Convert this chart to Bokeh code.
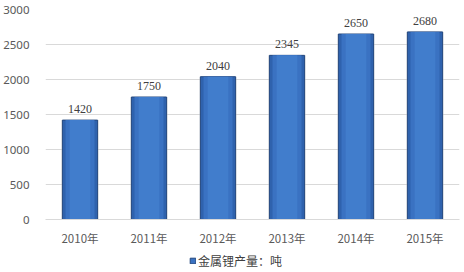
from bokeh.plotting import figure
from bokeh.models import ColumnDataSource, Range1d, Legend, LegendItem, LabelSet, FixedTicker
from bokeh.layouts import column
from bokeh.embed import file_html
from bokeh.resources import INLINE

years = ["2010年", "2011年", "2012年", "2013年", "2014年", "2015年"]
output = [1420, 1750, 2040, 2345, 2650, 2680]
series_name = "金属锂产量：吨"
y_ticks = [0, 500, 1000, 1500, 2000, 2500, 3000]

src = ColumnDataSource(dict(x=years, top=output, lbl=[str(v) for v in output]))

p = figure(x_range=years, y_range=Range1d(0, 3000), width=464, height=252,
           output_backend="svg", toolbar_location=None,
           min_border_left=39, min_border_right=5, min_border_top=9, min_border_bottom=33)
p.outline_line_color = None
p.background_fill_color = "white"

# shadow
p.vbar(x="x", top="top", width=0.54, source=src, fill_color="#cccccc", line_color=None, alpha=0.5)
p.vbar(x="x", top="top", width=0.51, source=src, fill_color="#2f62ad", line_color="#24487f", line_width=1)
p.vbar(x="x", top="top", width=0.42, source=src, fill_color="#3a72c2", line_color=None)
p.vbar(x="x", top="top", width=0.3, source=src, fill_color="#417dcc", line_color=None)

labels = LabelSet(x="x", y="top", text="lbl", source=src, y_offset=7, text_align="center",
                  text_font_size="12px", text_color="#404040", text_font="Noto Sans")
p.add_layout(labels)

p.yaxis.ticker = FixedTicker(ticks=y_ticks)
p.yaxis.axis_line_color = None
p.yaxis.major_tick_line_color = None
p.yaxis.minor_tick_line_color = None
p.yaxis.major_label_text_font_size = "11.5px"
p.yaxis.major_label_text_color = "#595959"
p.yaxis.major_label_text_font = "Noto Sans"
p.yaxis.major_label_standoff = 10

p.xaxis.axis_line_color = "#d9d9d9"
p.xaxis.major_tick_line_color = None
p.xaxis.minor_tick_line_color = None
p.xaxis.major_label_text_font_size = "11.5px"
p.xaxis.major_label_text_color = "#595959"
p.xaxis.major_label_text_font = "Noto Sans CJK SC"
p.xaxis.major_label_standoff = 4

p.xgrid.grid_line_color = None
p.ygrid.grid_line_color = "#d9d9d9"

# legend strip
lg = figure(width=464, height=20, x_range=Range1d(0, 1), y_range=Range1d(0, 1),
            output_backend="svg", toolbar_location=None,
            min_border_left=0, min_border_right=0, min_border_top=0, min_border_bottom=0)
lg.axis.visible = False
lg.grid.visible = False
lg.outline_line_color = None
dummy = lg.quad(left=[-5], right=[-4], top=[-5], bottom=[-6],
                fill_color="#3a72c2", line_color="#24487f")
legend = Legend(items=[LegendItem(label=series_name, renderers=[dummy])], location=(144, 3),
                label_text_font="Noto Sans CJK SC", label_text_font_size="12px",
                label_text_color="#404040", glyph_width=7, glyph_height=7,
                label_height=12,
                border_line_color=None, background_fill_alpha=0, padding=0, margin=0,
                label_standoff=2)
lg.add_layout(legend, "center")

open("out.html", "w").write(file_html(column(p, lg, spacing=0), INLINE))
